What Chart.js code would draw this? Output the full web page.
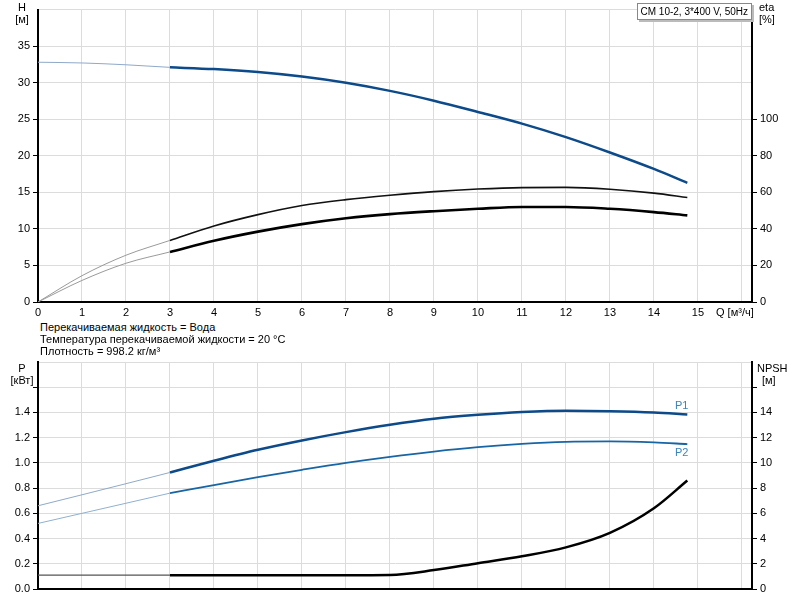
<!DOCTYPE html>
<html><head><meta charset="utf-8">
<script src="https://cdn.jsdelivr.net/npm/chart.js@4/dist/chart.umd.min.js"></script>
<style>
html,body{margin:0;padding:0;background:#fff;}
body{width:800px;height:600px;position:relative;overflow:hidden;font-family:"Liberation Sans",Arial,sans-serif;font-size:11px;color:#000;}
canvas{position:absolute;left:0;}
.t{position:absolute;white-space:nowrap;line-height:12px;}
#box{position:absolute;right:48px;top:3px;height:15px;padding:0 3px;border:1px solid #888;box-shadow:2px 2px 0 #bbb;background:#fff;line-height:15px;white-space:nowrap;font-size:10px;}
</style></head><body>
<canvas id="top" width="800" height="320" style="top:0"></canvas>
<canvas id="bot" width="800" height="250" style="top:350px"></canvas>
<div class="t" style="left:14px;top:1px;width:16px;text-align:center">H</div>
<div class="t" style="left:12px;top:13px;width:20px;text-align:center">[м]</div>
<div class="t" style="left:759px;top:1px">eta</div>
<div class="t" style="left:759px;top:13px">[%]</div>
<div class="t" style="left:716px;top:306px">Q [м³/ч]</div>
<div class="t" style="left:40px;top:321px">Перекачиваемая жидкость = Вода</div>
<div class="t" style="left:40px;top:333px">Температура перекачиваемой жидкости = 20 °C</div>
<div class="t" style="left:40px;top:345px">Плотность = 998.2 кг/м³</div>
<div class="t" style="left:14px;top:362px;width:16px;text-align:center">P</div>
<div class="t" style="left:8px;top:374px;width:28px;text-align:center">[кВт]</div>
<div class="t" style="left:757px;top:362px">NPSH</div>
<div class="t" style="left:762px;top:374px">[м]</div>
<div id="box">CM 10-2, 3*400 V, 50Hz</div>
<script>
// ---- data ----
const Q      = [0, 1, 2, 3, 4, 5, 6, 7, 8, 9, 10, 11, 12, 13, 14, 14.76];
const H      = [32.8, 32.7, 32.45, 32.1, 31.86, 31.46, 30.84, 29.99, 28.88, 27.54, 26.0, 24.4, 22.55, 20.45, 18.2, 16.3];
const ETA1   = [0, 14.4, 25.6, 33.7, 41.6, 47.8, 52.8, 56.0, 58.4, 60.4, 61.8, 62.6, 62.7, 61.7, 59.6, 57.2];
const ETA2   = [0, 11.8, 21.2, 27.4, 33.5, 38.5, 42.6, 45.8, 48.1, 49.7, 51.0, 52.0, 52.0, 51.0, 49.2, 47.4];
const P1     = [0.66, 0.747, 0.835, 0.924, 1.017, 1.104, 1.178, 1.244, 1.302, 1.35, 1.381, 1.403, 1.413, 1.41, 1.40, 1.384];
const P2     = [0.52, 0.60, 0.68, 0.76, 0.824, 0.887, 0.945, 1.0, 1.048, 1.09, 1.125, 1.151, 1.167, 1.17, 1.162, 1.149];
const NPSH   = [1.1, 1.1, 1.1, 1.1, 1.1, 1.1, 1.1, 1.1, 1.12, 1.5, 2.05, 2.6, 3.3, 4.45, 6.4, 8.6];
const Q_TICKS_MAX = 15, Q_AXIS_MAX = 16.23;
const SPLIT_Q = 3;

const FONT = {family: '"Liberation Sans", Arial, sans-serif', size: 11};
const GRID = '#dcdcdc';

function pts(ys, part) {
  const out = [];
  Q.forEach((q, i) => {
    if ((part === 'a' && q <= SPLIT_Q) || (part === 'b' && q >= SPLIT_Q)) out.push({x: q, y: ys[i]});
  });
  return out;
}
function pair(ys, axis, light, dark, wThin, wThick, label) {
  const common = {yAxisID: axis, pointRadius: 0, fill: false, cubicInterpolationMode: 'monotone', tension: 0.4};
  return [
    Object.assign({label: label + '_a', data: pts(ys, 'a'), borderColor: light, borderWidth: wThin}, common),
    Object.assign({label: label, data: pts(ys, 'b'), borderColor: dark, borderWidth: wThick}, common)
  ];
}
function fixWidth(w) { return s => { s.width = w; }; }
function fixHeight(h) { return s => { s.height = h; }; }

Chart.defaults.font = FONT;
Chart.defaults.color = '#000';
Chart.defaults.animation = false;

new Chart(document.getElementById('top'), {
  type: 'line',
  data: {datasets: [
    ...pair(H, 'yH', '#8fa9c8', '#0c4a8a', 1, 2.5, 'H'),
    ...pair(ETA1, 'yE', '#9a9a9a', '#111', 1, 1.6, 'eta1'),
    ...pair(ETA2, 'yE', '#9a9a9a', '#000', 1, 2.6, 'eta2')
  ]},
  options: {
    responsive: false, maintainAspectRatio: false,
    layout: {padding: {top: 3, left: 0, right: 0, bottom: 0}},
    plugins: {legend: {display: false}, tooltip: {enabled: false}},
    scales: {
      x: {type: 'linear', min: 0, max: Q_AXIS_MAX,
          ticks: {stepSize: 1, includeBounds: false, padding: 4, maxRotation: 0, autoSkip: false,
                  callback: v => (v <= Q_TICKS_MAX ? String(v) : '')},
          grid: {color: GRID, drawTicks: false},
          border: {color: '#000', width: 2},
          afterFit: fixHeight(18)},
      yH: {type: 'linear', position: 'left', min: 0, max: 40,
           ticks: {stepSize: 5, padding: 3, callback: v => (v < 40 ? String(v) : '')},
           grid: {color: GRID, tickLength: 5, tickColor: c => (c.tick && c.tick.value < 40 ? '#000' : 'rgba(0,0,0,0)')},
           border: {color: '#000', width: 2},
           afterFit: fixWidth(38)},
      yE: {type: 'linear', position: 'right', min: 0, max: 160,
           ticks: {stepSize: 20, padding: 3, callback: v => (v <= 100 ? String(v) : '')},
           grid: {drawOnChartArea: false, tickLength: 5, tickColor: c => (c.tick && c.tick.value <= 100 ? '#000' : 'rgba(0,0,0,0)')},
           border: {color: '#000', width: 2},
           afterFit: fixWidth(48)}
    }
  }
});

const endLabels = {
  id: 'endLabels',
  afterDatasetsDraw(chart) {
    const ctx = chart.ctx;
    ctx.save();
    ctx.font = '11px "Liberation Sans", Arial, sans-serif';
    ctx.fillStyle = '#3a84bd';
    ctx.textAlign = 'right';
    chart.data.datasets.forEach((ds, i) => {
      if (ds.label !== 'P1' && ds.label !== 'P2') return;
      const meta = chart.getDatasetMeta(i);
      const last = meta.data[meta.data.length - 1];
      if (ds.label === 'P1') { ctx.textBaseline = 'bottom'; ctx.fillText('P1', last.x + 1, last.y - 3); }
      else { ctx.textBaseline = 'top'; ctx.fillText('P2', last.x + 1, last.y + 3); }
    });
    ctx.restore();
  }
};

new Chart(document.getElementById('bot'), {
  type: 'line',
  data: {datasets: [
    ...pair(P1, 'yP', '#8fa9c8', '#0c4a8a', 1, 2.5, 'P1'),
    ...pair(P2, 'yP', '#8fb0cf', '#1765a5', 1, 1.8, 'P2'),
    ...pair(NPSH, 'yN', '#555', '#000', 1.4, 2.5, 'NPSH')
  ]},
  plugins: [endLabels],
  options: {
    responsive: false, maintainAspectRatio: false,
    layout: {padding: {top: 12, left: 0, right: 0, bottom: 0}},
    plugins: {legend: {display: false}, tooltip: {enabled: false}},
    scales: {
      x: {type: 'linear', min: 0, max: Q_AXIS_MAX,
          ticks: {display: false, stepSize: 1, includeBounds: false},
          grid: {color: GRID, drawTicks: false},
          border: {color: '#000', width: 2},
          afterFit: fixHeight(11)},
      yP: {type: 'linear', position: 'left', min: 0, max: 1.8,
           ticks: {stepSize: 0.2, padding: 3, callback: v => (v < 1.45 ? v.toFixed(1) : '')},
           grid: {color: GRID, tickLength: 5, tickColor: c => (c.tick && c.tick.value < 1.7 ? '#000' : 'rgba(0,0,0,0)')},
           border: {color: '#000', width: 2},
           afterFit: fixWidth(38)},
      yN: {type: 'linear', position: 'right', min: 0, max: 18,
           ticks: {stepSize: 2, padding: 3, callback: v => (v <= 14 ? String(v) : '')},
           grid: {drawOnChartArea: false, tickLength: 5, tickColor: c => (c.tick && c.tick.value <= 16 ? '#000' : 'rgba(0,0,0,0)')},
           border: {color: '#000', width: 2},
           afterFit: fixWidth(48)}
    }
  }
});
</script>
</body></html>
